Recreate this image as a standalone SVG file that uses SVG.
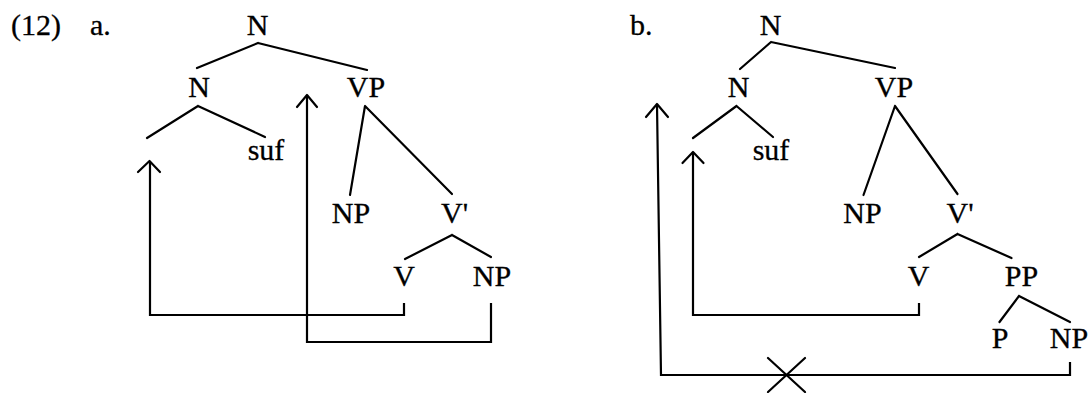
<svg xmlns="http://www.w3.org/2000/svg" width="1091" height="393" viewBox="0 0 1091 393">
<style>
text{font-family:"Liberation Serif","Times New Roman",serif;font-size:30px;fill:#000;stroke:#000;stroke-width:0.3}
.c{text-anchor:middle}
.e{stroke:#000;stroke-width:2.2;fill:none;stroke-linecap:round;stroke-linejoin:round}
.m{stroke:#000;stroke-width:2.2;fill:none;stroke-linejoin:miter}
</style>
<rect width="1091" height="393" fill="#fff"/>
<g id="labels">
<text x="11" y="35">(12)</text>
<text x="90" y="35">a.</text>
<text x="630" y="35">b.</text>
</g>
<g id="connectors">
<!-- tree a edges -->
<path class="e" d="M258,43 L197,68 M258,43 L367,70"/>
<path class="e" d="M198,106 L147,138 M198,106 L265,137"/>
<path class="e" d="M365,106 L350,195 M365,106 L452,194"/>
<path class="e" d="M452,235 L405,259 M452,235 L491,257"/>
<!-- tree a movement arrows -->
<path class="m" d="M150,162 V315 H404 V303"/>
<path class="e" d="M138,172 L149.5,161 L160,172"/>
<path class="m" d="M307,96 V342 H491 V303"/>
<path class="e" d="M297,107 L307,95 L317,107"/>
<!-- tree b edges -->
<path class="e" d="M771,42 L740,69 M771,42 L895,68"/>
<path class="e" d="M736.5,106 L693,138 M736.5,106 L773,137"/>
<path class="e" d="M895,106 L863.5,195 M895,106 L957.5,194"/>
<path class="e" d="M957.5,234 L919,257 M957.5,234 L1011.5,258"/>
<path class="e" d="M1019,296 L999.5,322 M1019,296 L1070,322"/>
<!-- tree b movement arrows -->
<path class="m" d="M693,152 V315 H919 V303"/>
<path class="e" d="M682.5,163 L693,152 L703.5,163"/>
<path class="m" d="M657,105 L661,375 H1070 V362"/>
<path class="e" d="M646,117 L657,104 L668,117"/>
<path class="e" d="M768,358 L805,392 M805,358 L768,392"/>
</g>
<g id="a-N"><text class="c" x="257.5" y="35">N</text></g>
<g id="a-N2"><text class="c" x="199" y="97">N</text></g>
<g id="a-VP"><text class="c" x="366" y="97">VP</text></g>
<g id="a-suf"><text class="c" x="266" y="160">suf</text></g>
<g id="a-NP1"><text class="c" x="351" y="223">NP</text></g>
<g id="a-Vbar"><text x="441" y="223">V'</text></g>
<g id="a-V"><text class="c" x="404" y="286">V</text></g>
<g id="a-NP2"><text class="c" x="492" y="286">NP</text></g>
<g id="b-N"><text class="c" x="770.5" y="35">N</text></g>
<g id="b-N2"><text class="c" x="738.5" y="97">N</text></g>
<g id="b-VP"><text class="c" x="894" y="97">VP</text></g>
<g id="b-suf"><text class="c" x="771" y="160">suf</text></g>
<g id="b-NP1"><text class="c" x="862.5" y="223">NP</text></g>
<g id="b-Vbar"><text x="946.5" y="223">V'</text></g>
<g id="b-V"><text class="c" x="918.5" y="286">V</text></g>
<g id="b-PP"><text class="c" x="1021.5" y="286">PP</text></g>
<g id="b-P"><text class="c" x="1000" y="348">P</text></g>
<g id="b-NP2"><text class="c" x="1069" y="348">NP</text></g>
</svg>
